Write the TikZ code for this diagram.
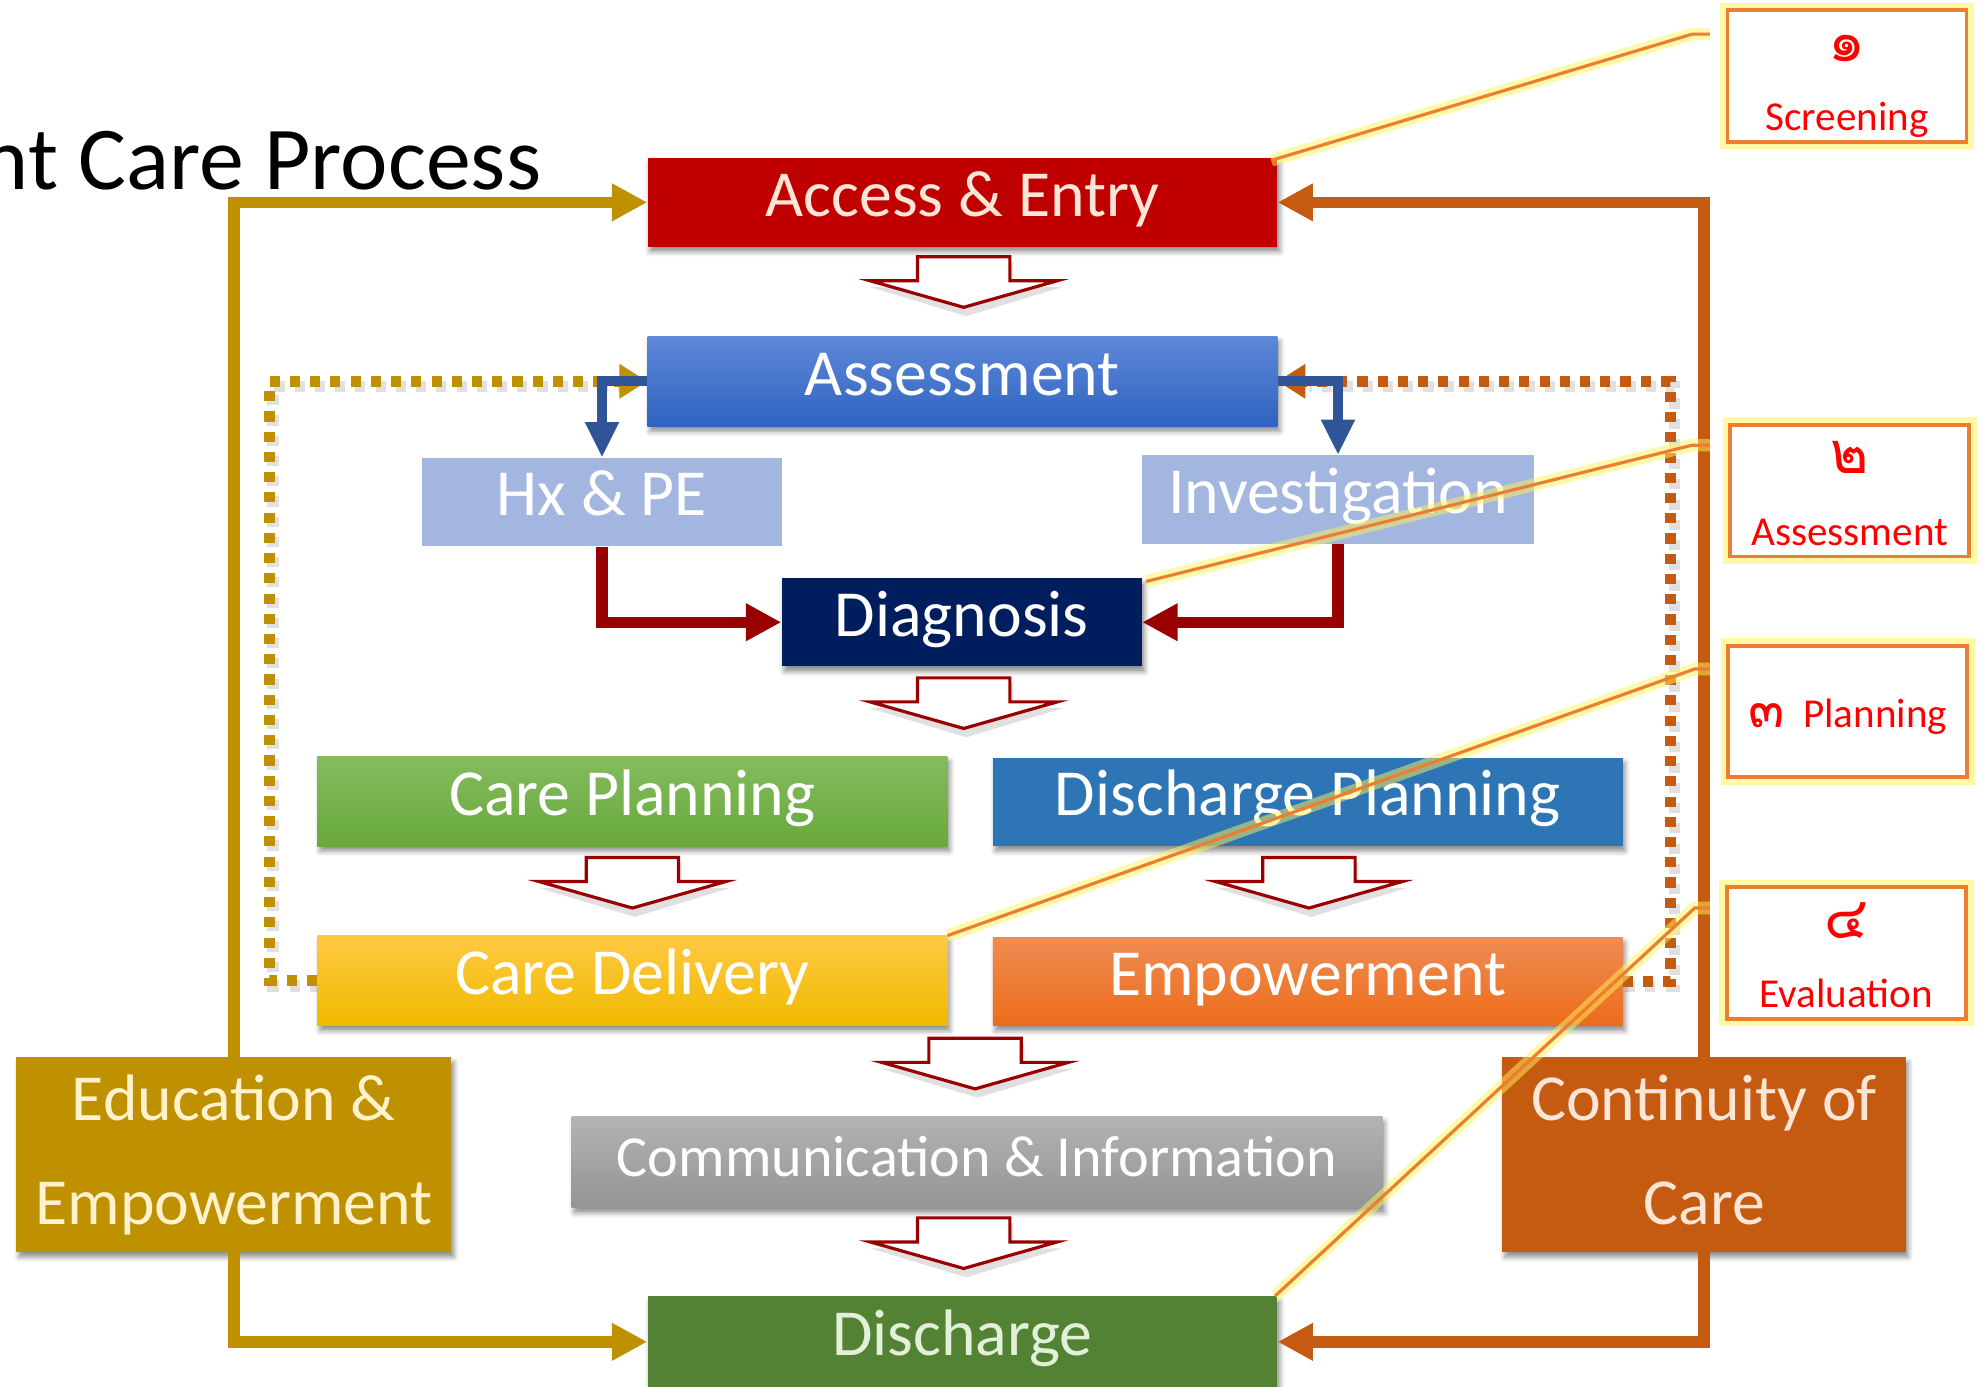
\documentclass[tikz,border=0pt]{standalone}
\usepackage{fontspec}
\setmainfont{Carlito}
\newfontfamily\thaifont[Script=Thai]{Loma}
\usetikzlibrary{arrows.meta,shadows.blur,calc}
\definecolor{accred}{HTML}{C00000}
\definecolor{assTop}{HTML}{5E88D8}
\definecolor{assBot}{HTML}{2F63C0}
\definecolor{lightblue}{HTML}{A2B6E0}
\definecolor{navy}{HTML}{001E5E}
\definecolor{cpTop}{HTML}{84BC5E}
\definecolor{cpBot}{HTML}{68A83C}
\definecolor{dpblue}{HTML}{2E75B6}
\definecolor{cdTop}{HTML}{FFC843}
\definecolor{cdBot}{HTML}{F0BA00}
\definecolor{emTop}{HTML}{F08C52}
\definecolor{emBot}{HTML}{EB6C1A}
\definecolor{cmTop}{HTML}{B3B3B3}
\definecolor{cmBot}{HTML}{949494}
\definecolor{dischgreen}{HTML}{548235}
\definecolor{gold}{HTML}{BF9000}
\definecolor{rust}{HTML}{C55A11}
\definecolor{darkred}{HTML}{990000}
\definecolor{arrblue}{HTML}{2F5597}
\definecolor{callorange}{HTML}{ED7D31}
\definecolor{peach}{HTML}{FBE5D6}
\definecolor{palegreen}{HTML}{E2F0D9}
\definecolor{cream}{HTML}{FFF2CC}
\definecolor{glowyellow}{HTML}{FFF35A}
\begin{document}
\begin{tikzpicture}[x=1pt,y=-1pt,
  boxbase/.style={rectangle, inner sep=0pt, text=white, font=\fontsize{52}{82}\selectfont,
    blur shadow={shadow xshift=2pt, shadow yshift=-4pt, shadow blur radius=4pt, shadow opacity=45}},
  box/.style={boxbase, text height=32pt, text depth=10pt},
  twobox/.style={boxbase, align=center},
  goldline/.style={draw=gold, line width=9pt, -{Triangle[length=28pt,width=28pt]}},
  rustline/.style={draw=rust, line width=9pt, -{Triangle[length=28pt,width=28pt]}},
  bluearr/.style={draw=arrblue, line width=8pt, -{Triangle[length=28pt,width=25pt]}},
  redarr/.style={draw=darkred, line width=9pt, -{Triangle[length=28pt,width=28pt]}},
  dotline/.style={line width=8.5pt, dash pattern=on 8pt off 8pt, -{Triangle[length=22pt,width=26pt]}},
  dotshadow/.style={draw=black, opacity=0.12, line width=9pt, dash pattern=on 8pt off 8pt},
  callbox/.style={rectangle, draw=callorange, line width=3pt, fill=white, inner sep=0pt,
    minimum width=189pt, minimum height=104pt,
    preaction={draw=glowyellow, line width=12pt, opacity=0.55}},
  calltext/.style={text=red, inner sep=0pt, font=\fontsize{32.5}{36}\selectfont},
  thaidigit/.style={text=red, inner sep=0pt, font=\thaifont\fontsize{46}{50}\selectfont},
  callline/.style={draw=callorange, line width=2.5pt,
    preaction={draw=glowyellow, line width=10pt, opacity=0.5}},
  hollow/.pic={
    \fill[black, opacity=0.12] (-34,4) -- (39,4) -- (39,24) -- (78,24) -- (2,47) -- (-74,24) -- (-34,24) -- cycle;
    \draw[darkred, line width=2.5pt, fill=white, line join=miter]
      (-36.5,0) -- (36.5,0) -- (36.5,19) -- (74,19) -- (0,40) -- (-74,19) -- (-36.5,19) -- cycle;
  }
]
\useasboundingbox (0,0) rectangle (1568,1096);

% title (cut at left edge, as in the reference)
\begin{scope}
\clip (0,0) rectangle (1568,1096);
\node[anchor=base east, inner sep=0pt, font=\fontsize{71}{80}\selectfont] (title) at (428,150) {Patient Care Process};
\end{scope}

% named points of the connectors
\coordinate (gd1) at (213,775.5);
\coordinate (gd2) at (213,301.5);
\coordinate (od1) at (1321,776);
\coordinate (od2) at (1321,301.5);

% dotted feedback lines (shadows first)
\draw[dotshadow] (253,779.5) -- (216,779.5) -- (216,305.5) -- (490,305.5);
\draw[dotshadow] (1285,780) -- (1324,780) -- (1324,305.5) -- (1035,305.5);

% boxes
\node[box, fill=accred, text=peach, minimum width=498pt, minimum height=70pt] (access) at (761,160) {Access \& Entry};
\node[box, top color=assTop, bottom color=assBot, minimum width=498pt, minimum height=71pt] (assess) at (761,301.5) {Assessment};
\node[box, fill=lightblue, minimum width=284pt, minimum height=70pt, blur shadow={shadow opacity=0}] (hx) at (476,397) {Hx \& PE};
\node[box, fill=lightblue, minimum width=310pt, minimum height=70pt, blur shadow={shadow opacity=0}] (inv) at (1058,395) {Investigation};
\node[box, fill=navy, minimum width=285pt, minimum height=70pt] (diag) at (760.5,492) {Diagnosis};
\node[box, top color=cpTop, bottom color=cpBot, minimum width=498pt, minimum height=71pt] (careplan) at (500,633.5) {Care Planning};
\node[box, fill=dpblue, minimum width=498pt, minimum height=70pt] (dplan) at (1034,634) {Discharge Planning};
\node[box, top color=cdTop, bottom color=cdBot, minimum width=498pt, minimum height=71pt] (caredel) at (500,775.5) {Care Delivery};
\node[box, top color=emTop, bottom color=emBot, minimum width=498pt, minimum height=70pt] (empow) at (1034,776) {Empowerment};
\node[box, top color=cmTop, bottom color=cmBot, minimum width=641pt, minimum height=72pt, font=\fontsize{46}{60}\selectfont] (comm) at (772.5,919) {Communication \& Information};
\node[box, fill=dischgreen, text=palegreen, minimum width=498pt, minimum height=72pt] (disch) at (761,1061) {Discharge};
\node[twobox, fill=gold, text=cream, minimum width=344pt, minimum height=154pt] (edu) at (185,913) {Education \&\vphantom{d}\\Empowerment\vphantom{y}};
\node[twobox, fill=rust, text=peach, minimum width=319pt, minimum height=154pt] (cont) at (1347.5,913) {Continuity of\vphantom{d}\\Care\vphantom{y}};

% dotted feedback lines
\draw[dotline, draw=gold] (caredel.west) -- (gd1) -- (gd2) -- (assess.west);
\draw[dotline, draw=rust] (empow.east) -- (od1) -- (od2) -- (assess.east);

% outer loops
\draw[goldline] (edu.north) |- (access.west);
\draw[goldline] (edu.south) |- (disch.west);
\draw[rustline] (cont.north) |- (access.east);
\draw[rustline] (cont.south) |- (disch.east);

% assessment branches
\draw[bluearr] (assess.west) -| (hx.north);
\draw[bluearr] (assess.east) -| (inv.north);
\draw[redarr] (hx.south) |- (diag.west);
\draw[redarr] (inv.south) |- (diag.east);

% hollow flow arrows
\pic (ha1) at (762,203) {hollow};
\pic (ha2) at (762,536) {hollow};
\pic (ha3) at (500,678) {hollow};
\pic (ha4) at (1035,678) {hollow};
\pic (ha5) at (771,821) {hollow};
\pic (ha6) at (762,963) {hollow};

% callouts
\coordinate (k1a) at (1352,27);  \coordinate (k1b) at (1338,27);
\coordinate (k2a) at (1352,352); \coordinate (k2b) at (1338,352);
\coordinate (k3a) at (1352,529); \coordinate (k3b) at (1340,529);
\coordinate (k4a) at (1352,718); \coordinate (k4b) at (1340,718);
\draw[callline] (k1a) -- (k1b) -- ([xshift=-5pt,yshift=-2pt]access.north east);
\draw[callline] (k2a) -- (k2b) -- ([xshift=3pt,yshift=-3pt]diag.north east);
\draw[callline] (k3a) -- (k3b) -- (caredel.north east);
\draw[callline] (k4a) -- (k4b) -- ([xshift=-2pt]disch.north east);

\node[callbox] (c1) at (1460.5,60) {};
\node[callbox] (c2) at (1462.5,388) {};
\node[callbox] (c3) at (1461,562.5) {};
\node[callbox] (c4) at (1460,753.5) {};
\node[thaidigit] (c1n) at (1460.5,38) {๑};
\node[calltext, anchor=base] (c1t) at (1460.5,103) {Screening};
\node[thaidigit] (c2n) at (1462.5,362) {๒};
\node[calltext, anchor=base] (c2t) at (1462.5,431) {Assessment};
\node[calltext, anchor=base] (c3t) at (1461,575) {{\thaifont\fontsize{42}{48}\selectfont ๓}\ \ Planning};
\node[thaidigit] (c4n) at (1460,728) {๔};
\node[calltext, anchor=base] (c4t) at (1460,797) {Evaluation};
\end{tikzpicture}
\end{document}
